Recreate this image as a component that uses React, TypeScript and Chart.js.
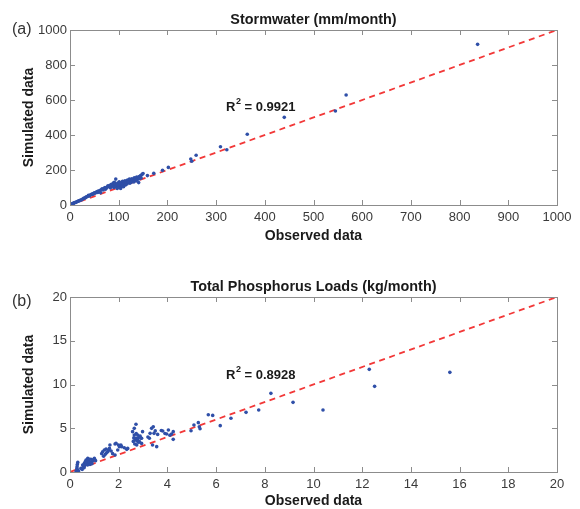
import React, { useEffect, useRef } from "react";
import { Chart, registerables } from "chart.js";

Chart.register(...registerables);

// ---- Data: (a) Stormwater (mm/month) ----
const stormObserved: number[] = [
  2, 4, 5, 7, 8, 10, 12, 14, 15, 17, 19, 20, 22, 24, 26, 28, 30, 32, 33, 35, 37, 38, 40, 42, 44, 45, 47, 48, 50, 52,
  54, 55, 57, 58, 60, 62, 63, 65, 66, 68, 70, 72, 73, 75, 77, 78, 80, 82, 83, 85, 86, 88, 89, 90, 91, 92, 93, 94, 95, 96,
  97, 98, 99, 100, 101, 102, 103, 104, 105, 106, 107, 108, 109, 110, 112, 113, 114, 115, 117, 118, 119, 120, 122, 123, 125, 126, 127, 128, 130, 131,
  132, 133, 135, 136, 137, 138, 140, 141, 142, 143, 145, 146, 148, 150, 159, 172, 190, 202, 248, 250, 259, 309, 322, 364, 440, 545, 567, 837,
];
const stormSimulated: number[] = [
  3, 6, 8, 9, 12, 14, 15, 19, 20, 22, 24, 26, 28, 30, 34, 38, 40, 42, 46, 48, 50, 55, 52, 58, 60, 63, 61, 66, 70, 68,
  73, 76, 72, 80, 78, 84, 70, 88, 92, 86, 95, 100, 90, 98, 104, 110, 105, 112, 98, 118, 108, 115, 125, 100, 130, 110, 120, 148, 105, 118,
  95, 125, 112, 108, 132, 115, 100, 95, 122, 128, 110, 136, 118, 105, 125, 138, 115, 130, 120, 142, 128, 135, 148, 125, 138, 130, 150, 140, 145, 132,
  155, 142, 148, 138, 160, 145, 152, 128, 162, 150, 168, 155, 175, 180, 168, 181, 198, 215, 263, 250, 284, 333, 316, 404, 501, 537, 629, 918,
];
const stormR2 = "0.9921";
const stormXTicks = { min: 0, max: 1000, step: 100 };
const stormYTicks = { min: 0, max: 1000, step: 200 };

// ---- Data: (b) Total Phosphorus Loads (kg/month) ----
const tpObserved: number[] = [
  0.25, 0.27, 0.28, 0.29, 0.3, 0.32, 0.32, 0.35, 0.45, 0.5, 0.52, 0.55, 0.58, 0.59, 0.6, 0.63, 0.66, 0.68, 0.7, 0.72, 0.73, 0.75, 0.77, 0.79, 0.8, 0.82, 0.86, 0.88, 0.9, 0.93, 0.95, 1.0, 1.05,
  1.3, 1.34, 1.38, 1.41, 1.45, 1.48, 1.5, 1.55, 1.58, 1.62, 1.64, 1.69, 1.75, 1.85, 1.85, 1.89, 1.96, 1.99, 2.03, 2.09, 2.12, 2.23, 2.33, 2.37,
  2.57, 2.6, 2.62, 2.64, 2.64, 2.66, 2.68, 2.71, 2.71, 2.72, 2.74, 2.75, 2.78, 2.78, 2.8, 2.82, 2.85, 2.88, 2.92, 2.94, 2.94, 2.98,
  3.2, 3.26, 3.29, 3.35, 3.39, 3.42, 3.45, 3.5, 3.56, 3.6, 3.75, 3.81, 3.9, 3.97, 4.04, 4.1, 4.17, 4.24, 4.24,
  4.97, 5.09, 5.31, 5.27, 5.34, 5.68, 5.86, 6.17, 6.61, 7.23, 7.75, 8.25, 9.16, 10.39, 12.29, 12.51, 15.6,
];
const tpSimulated: number[] = [
  0.05, 0.2, 0.4, 0.61, 0.85, 1.1, 0.22, 0.1, 0.42, 0.3, 0.8, 0.6, 0.5, 0.99, 0.75, 1.2, 1.37, 0.9, 1.1, 0.8, 1.56, 1.3, 1.0, 1.18, 1.45, 0.85, 1.45, 1.1, 0.95, 1.26, 1.4, 1.56, 1.3,
  2.1, 2.32, 1.8, 2.51, 2.02, 2.63, 2.2, 2.32, 2.5, 2.7, 3.09, 2.4, 2.1, 3.2, 1.94, 3.28, 2.51, 3.09, 2.9, 3.09, 2.9, 2.78, 2.59, 2.7,
  4.61, 3.5, 3.9, 4.99, 4.23, 3.2, 3.7, 5.45, 3.85, 4.4, 3.1, 3.55, 3.66, 4.23, 3.9, 3.4, 3.47, 4.1, 3.85, 3.85, 3.27, 4.61,
  4.0, 3.85, 4.42, 4.99, 3.09, 5.18, 4.42, 4.7, 2.9, 4.3, 4.75, 4.69, 4.4, 4.34, 4.8, 4.2, 4.34, 4.61, 3.73,
  4.72, 5.37, 5.18, 5.64, 4.95, 6.55, 6.47, 5.3, 6.14, 6.82, 7.09, 8.99, 7.96, 7.09, 11.73, 9.79, 11.39,
];
const tpR2 = "0.8928";
const tpXTicks = { min: 0, max: 20, step: 2 };
const tpYTicks = { min: 0, max: 20, step: 5 };

const FONT = "'Liberation Sans', Arial, Helvetica, sans-serif";
const BOX = "#8c8c8c";
const TICK_TEXT = "#3a3a3a";
const TEXT = "#1a1a1a";
const DOT = "#2f4fa8";
const RED = "#f23838";

type PanelSpec = {
  panel: string;
  title: string;
  r2: string;
  obs: number[];
  sim: number[];
  xt: { min: number; max: number; step: number };
  yt: { min: number; max: number; step: number };
  height: number;
  padTop: number;
  xAxisH: number;
  titleY: number;
  panelY: number;
  xLabelY: number;
  r2X: number;
  r2Y: number;
};

function framePlugin(spec: PanelSpec) {
  return {
    id: "frameAndText",
    afterDraw(chart: any) {
      const ctx = chart.ctx as CanvasRenderingContext2D;
      const a = chart.chartArea;
      const xs = chart.scales.x;
      const ys = chart.scales.y;
      ctx.save();
      // box
      ctx.strokeStyle = BOX;
      ctx.lineWidth = 1;
      ctx.strokeRect(Math.round(a.left) + 0.5, Math.round(a.top) + 0.5, Math.round(a.right - a.left), Math.round(a.bottom - a.top));
      // inward ticks on all four sides
      const TL = 5;
      ctx.beginPath();
      xs.ticks.forEach((t: any) => {
        const px = Math.round(xs.getPixelForValue(t.value)) + 0.5;
        ctx.moveTo(px, a.bottom);
        ctx.lineTo(px, a.bottom - TL);
        ctx.moveTo(px, a.top);
        ctx.lineTo(px, a.top + TL);
      });
      ys.ticks.forEach((t: any) => {
        const py = Math.round(ys.getPixelForValue(t.value)) + 0.5;
        ctx.moveTo(a.left, py);
        ctx.lineTo(a.left + TL, py);
        ctx.moveTo(a.right, py);
        ctx.lineTo(a.right - TL, py);
      });
      ctx.stroke();

      const cx = (a.left + a.right) / 2;
      const cy = (a.top + a.bottom) / 2;
      ctx.textBaseline = "middle";
      // panel label
      ctx.font = `16px ${FONT}`;
      ctx.textAlign = "left";
      ctx.fillStyle = "#333333";
      ctx.fillText(spec.panel, 12, spec.panelY);
      // title
      ctx.fillStyle = TEXT;
      ctx.font = `bold 14.4px ${FONT}`;
      ctx.textAlign = "center";
      ctx.fillText(spec.title, cx, spec.titleY);
      // x label
      ctx.font = `bold 14px ${FONT}`;
      ctx.fillText("Observed data", cx, spec.xLabelY);
      // y label
      ctx.save();
      ctx.translate(29, cy);
      ctx.rotate(-Math.PI / 2);
      ctx.fillText("Simulated data", 0, 0);
      ctx.restore();
      // R^2 annotation
      ctx.textAlign = "left";
      let x = spec.r2X;
      const y = spec.r2Y;
      ctx.font = `bold 13px ${FONT}`;
      ctx.fillText("R", x, y);
      x += ctx.measureText("R").width + 0.5;
      ctx.font = `bold 9px ${FONT}`;
      ctx.fillText("2", x, y - 5);
      x += ctx.measureText("2").width;
      ctx.font = `bold 13px ${FONT}`;
      ctx.fillText(" = " + spec.r2, x, y);
      ctx.restore();
    },
  };
}

function Panel({ spec }: { spec: PanelSpec }) {
  const ref = useRef<HTMLCanvasElement | null>(null);
  useEffect(() => {
    if (!ref.current) return;
    const points = spec.obs.map((o, i) => ({ x: o, y: spec.sim[i] }));
    const chart = new Chart(ref.current, {
      type: "scatter",
      data: {
        datasets: [
          {
            type: "line",
            data: [
              { x: spec.xt.min, y: spec.yt.min },
              { x: spec.xt.max, y: spec.yt.max },
            ],
            borderColor: RED,
            borderWidth: 1.8,
            borderDash: [6, 4.6],
            pointRadius: 0,
            fill: false,
            order: 2,
          } as any,
          {
            type: "scatter",
            data: points,
            backgroundColor: DOT,
            borderWidth: 0,
            pointRadius: 1.8,
            order: 1,
          } as any,
        ],
      },
      options: {
        animation: false,
        responsive: false,
        devicePixelRatio: 1,
        layout: { padding: { left: 0, top: spec.padTop, right: 23, bottom: 0 } },
        plugins: { legend: { display: false }, tooltip: { enabled: false }, title: { display: false } },
        scales: {
          x: {
            type: "linear",
            min: spec.xt.min,
            max: spec.xt.max,
            grid: { display: false, drawTicks: false, tickLength: 0 },
            border: { display: false },
            ticks: {
              stepSize: spec.xt.step,
              padding: 5,
              color: TICK_TEXT,
              font: { family: FONT, size: 13 },
              maxRotation: 0,
              autoSkip: false,
              callback: (v: any) => String(v),
            },
            afterFit: (s: any) => {
              s.height = spec.xAxisH;
            },
          },
          y: {
            type: "linear",
            min: spec.yt.min,
            max: spec.yt.max,
            grid: { display: false, drawTicks: false, tickLength: 0 },
            border: { display: false },
            ticks: {
              stepSize: spec.yt.step,
              padding: 3,
              color: TICK_TEXT,
              font: { family: FONT, size: 13 },
              autoSkip: false,
              callback: (v: any) => String(v),
            },
            afterFit: (s: any) => {
              s.width = 70;
            },
          },
        },
      },
      plugins: [framePlugin(spec)],
    } as any);
    return () => chart.destroy();
  }, [spec]);
  return <canvas ref={ref} width={580} height={spec.height} style={{ display: "block", width: 580, height: spec.height }} />;
}

const specA: PanelSpec = {
  panel: "(a)",
  title: "Stormwater (mm/month)",
  r2: stormR2,
  obs: stormObserved,
  sim: stormSimulated,
  xt: stormXTicks,
  yt: stormYTicks,
  height: 255,
  padTop: 30,
  xAxisH: 50,
  titleY: 20,
  panelY: 30,
  xLabelY: 236,
  r2X: 226,
  r2Y: 107,
};

const specB: PanelSpec = {
  panel: "(b)",
  title: "Total Phosphorus Loads (kg/month)",
  r2: tpR2,
  obs: tpObserved,
  sim: tpSimulated,
  xt: tpXTicks,
  yt: tpYTicks,
  height: 254,
  padTop: 42,
  xAxisH: 37,
  titleY: 32,
  panelY: 47,
  xLabelY: 246,
  r2X: 226,
  r2Y: 120,
};

export default function App() {
  return (
    <div style={{ position: "absolute", left: 0, top: 0, width: 580, height: 509, background: "#ffffff" }}>
      <Panel spec={specA} />
      <Panel spec={specB} />
    </div>
  );
}
